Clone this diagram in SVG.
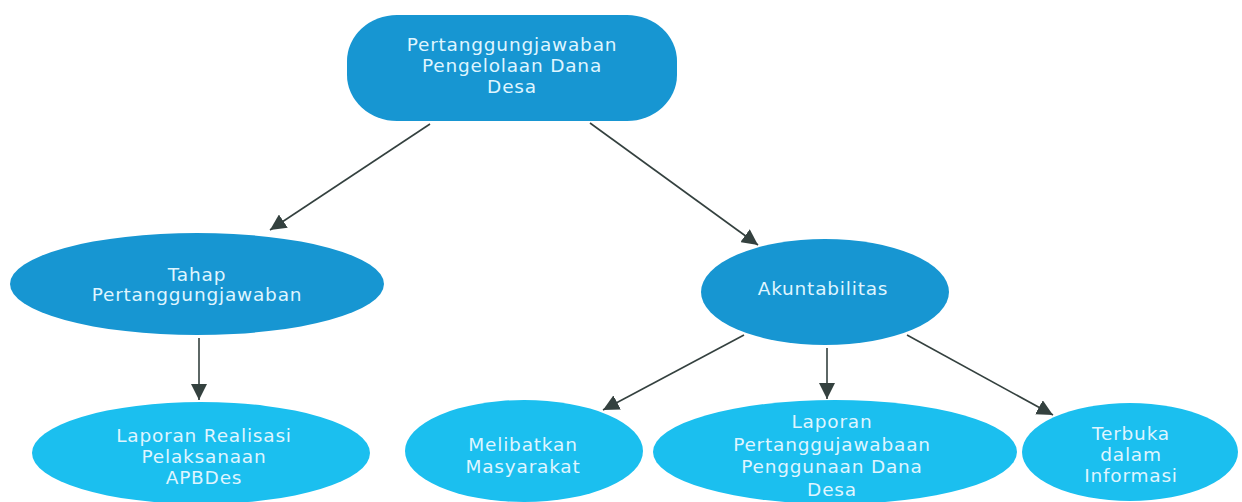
<svg xmlns="http://www.w3.org/2000/svg" width="1242" height="502" viewBox="0 0 1242 502">
<style>
.dark{fill:#1796d2}
.light{fill:#1bbfef}
.t{font-family:"DejaVu Sans",sans-serif;font-size:18.5px;letter-spacing:0.8px;fill:#dff5ff;text-anchor:middle}
.c{stroke:#34413f;stroke-width:1.6;fill:none;marker-end:url(#ah)}
</style>
<defs>
<marker id="ah" markerUnits="userSpaceOnUse" markerWidth="16" markerHeight="16" refX="14" refY="7" orient="auto" viewBox="0 0 14 14">
<path d="M0,0 L14,7 L0,14 z" fill="#34413f"/>
</marker>
</defs>
<rect width="1242" height="502" fill="#ffffff"/>
<g id="connectors">
<line class="c" x1="430" y1="124" x2="270" y2="230"/>
<line class="c" x1="590" y1="123" x2="758" y2="245"/>
<line class="c" x1="199" y1="338" x2="199" y2="400"/>
<line class="c" x1="744" y1="335" x2="603" y2="410"/>
<line class="c" x1="827" y1="348" x2="827" y2="399"/>
<line class="c" x1="907" y1="335" x2="1053" y2="415"/>
</g>
<g id="root">
<rect class="dark" x="347" y="15" width="330" height="106" rx="50" ry="46"/>
<text class="t" x="512" y="51">Pertanggungjawaban</text>
<text class="t" x="512" y="72">Pengelolaan Dana</text>
<text class="t" x="512" y="93">Desa</text>
</g>
<g id="tahap">
<ellipse class="dark" cx="197" cy="284" rx="187" ry="51"/>
<text class="t" x="197" y="281">Tahap</text>
<text class="t" x="197" y="301">Pertanggungjawaban</text>
</g>
<g id="akuntabilitas">
<ellipse class="dark" cx="825" cy="292" rx="124" ry="53"/>
<text class="t" x="823" y="295">Akuntabilitas</text>
</g>
<g id="laporan-realisasi">
<ellipse class="light" cx="201" cy="453" rx="169" ry="51"/>
<text class="t" x="204" y="442">Laporan Realisasi</text>
<text class="t" x="204" y="463">Pelaksanaan</text>
<text class="t" x="204" y="484">APBDes</text>
</g>
<g id="melibatkan">
<ellipse class="light" cx="524" cy="451" rx="119" ry="51"/>
<text class="t" x="523" y="451">Melibatkan</text>
<text class="t" x="523" y="473">Masyarakat</text>
</g>
<g id="laporan-pertanggujawabaan">
<ellipse class="light" cx="835" cy="452" rx="182" ry="52"/>
<text class="t" x="832" y="428">Laporan</text>
<text class="t" x="832" y="451">Pertanggujawabaan</text>
<text class="t" x="832" y="473">Penggunaan Dana</text>
<text class="t" x="832" y="496">Desa</text>
</g>
<g id="terbuka">
<ellipse class="light" cx="1130" cy="452" rx="108" ry="49"/>
<text class="t" x="1131" y="440">Terbuka</text>
<text class="t" x="1131" y="461">dalam</text>
<text class="t" x="1131" y="482">Informasi</text>
</g>
</svg>
